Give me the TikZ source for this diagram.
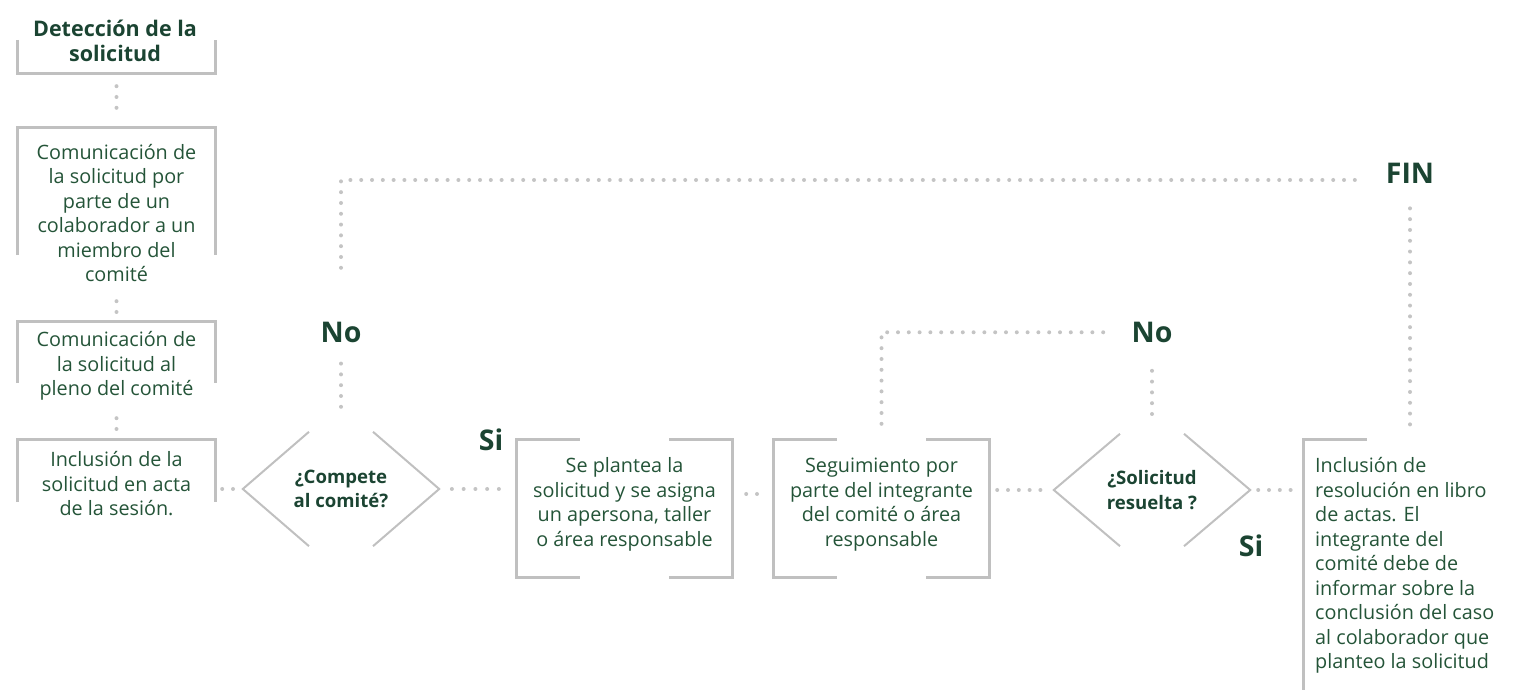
\documentclass[tikz,border=0pt]{standalone}
\usepackage{fontspec}
\setmainfont{Open Sans}
\usepackage{tikz}
\usetikzlibrary{positioning}
\definecolor{leaf}{RGB}{36,84,56}
\definecolor{darkleaf}{RGB}{27,68,50}
\definecolor{linegray}{RGB}{192,192,192}
\definecolor{dotgray}{RGB}{196,196,196}

\begin{document}
\begin{tikzpicture}[x=1pt, y=1pt,
  step text/.style={font=\fontsize{19.8}{24.5}\selectfont, text=leaf, align=center, inner sep=0pt},
  head text/.style={font=\bfseries\fontsize{21.5}{24.5}\selectfont, text=darkleaf, align=center, inner sep=0pt},
  ask node/.style={font=\bfseries\fontsize{18.6}{24.5}\selectfont, text=darkleaf, align=center,
    inner sep=0pt, minimum width=196pt, minimum height=114pt},
  answer/.style={font=\bfseries\fontsize{28.5}{30}\selectfont, text=darkleaf, inner sep=0pt},
  frame box/.style={inner sep=0pt, minimum width=198pt},
  step box/.style={inner sep=0pt, minimum width=215pt, minimum height=137pt},
  frame line/.style={draw=linegray, line width=3pt},
  ask line/.style={draw=linegray, line width=2pt},
  dot line/.style={draw=dotgray, line width=4pt, line cap=round, dash pattern=on 0pt off 10.8pt}]

\useasboundingbox (0,0) rectangle (1519,690);

% frames of the left column
\node[frame box, minimum height=33pt] (F1) at (116.5,633.5) {};
\node[frame box, minimum height=127pt] (F2) at (116.5,498.5) {};
\node[frame box, minimum height=61pt] (F3) at (116.5,337.5) {};
\node[frame box, minimum height=62pt] (F4) at (116.5,219) {};

% texts of the left column
\node[head text] (T1) at (115,649) {Detección de la\\solicitud};
\node[step text] (T2) at (116.5,477) {Comunicación de\\la solicitud por\\parte de un\\colaborador a un\\miembro del\\comité};
\node[step text] (T3) at (116.5,324) {Comunicación de\\la solicitud al\\pleno del comité};
\node[step text] (T4) at (116.5,206) {Inclusión de la\\solicitud en acta\\de la sesión.};

% decisions and steps
\node[ask node] (D1) at (341,201) {¿Compete\\al comité?};
\node[step box] (F5) at (624.5,181.5) {};
\node[step box] (F6) at (881.5,181.5) {};
\node[ask node, minimum height=112pt] (D2) at (1152,200) {¿Solicitud\\resuelta ?};
\node[inner sep=0pt, minimum width=212pt, minimum height=250pt] (F7) at (1410,125) {};

\node[step text] (T5) at (624.5,185.5) {Se plantea la\\solicitud y se asigna\\un apersona, taller\\o área responsable};
\node[step text] (T6) at (881.5,185.5) {Seguimiento por\\parte del integrante\\del comité o área\\responsable};
\node[step text, align=left, anchor=west] (T7) at (1315,124.5) {Inclusión de\\resolución en libro\\de actas. El\\integrante del\\comité debe de\\informar sobre la\\conclusión del caso\\al colaborador que\\planteo la solicitud};

% answers
\node[answer] (No1) [above=89pt of D1] {No};
\node[answer] (Si1) at (491,250) {Si};
\node[answer] (No2) [above=91pt of D2] {No};
\node[answer] (Si2) at (1251,144) {Si};
\node[answer] (FIN) at (1410,517) {FIN};
\coordinate (FINin) at ([yshift=-7pt]FIN.west);

% frame lines
\draw[frame line] (F1.north west) -- (F1.south west) -- (F1.south east) -- (F1.north east);
\foreach \f in {F2,F3,F4}
  \draw[frame line] (\f.south west) -- (\f.north west) -- (\f.north east) -- (\f.south east);
\foreach \f in {F5,F6}
  \draw[frame line] ([xshift=63pt]\f.north west) -- (\f.north west) -- (\f.south west) -- ([xshift=63pt]\f.south west)
    ([xshift=-63pt]\f.north east) -- (\f.north east) -- (\f.south east) -- ([xshift=-63pt]\f.south east);
\draw[frame line] ([xshift=63pt]F7.north west) -- (F7.north west) -- (F7.south west);
\foreach \d in {D1,D2}
  \draw[ask line] ([xshift=-32pt]\d.north) -- (\d.west) -- ([xshift=-32pt]\d.south)
    ([xshift=32pt]\d.north) -- (\d.east) -- ([xshift=32pt]\d.south);

% dotted connectors
\draw[dot line, shorten <=13pt, shorten >=17.4pt] (F1.south) -- (F2.north);
\draw[dot line, shorten <=46pt, shorten >=7.2pt] (F2.south) -- (F3.north);
\draw[dot line, shorten <=35pt, shorten >=8.2pt] (F3.south) -- (F4.north);
\draw[dot line, shorten <=6.5pt, shorten >=7.2pt] (F4.east |- D1.west) -- (D1.west);
\draw[dot line, dash pattern=on 0pt off 11.75pt, shorten <=12.7pt, shorten >=15.3pt] (D1.east) -- (D1.east -| F5.west);
\draw[dot line, shorten <=14pt, shorten >=14.2pt] ([yshift=14.5pt]F5.east) -- ([yshift=14.5pt]F6.west);
\draw[dot line, shorten <=8pt, shorten >=10.8pt] (F6.east |- D2.west) -- (D2.west);
\draw[dot line, shorten <=8pt, shorten >=10.6pt] (D2.east) -- (D2.east -| F7.west);
\draw[dot line, shorten <=16pt, shorten >=25pt] (F6.north) -- (F6.north |- No2.west) -- (No2.west);
\draw[dot line, shorten <=28pt, shorten >=16.8pt] (No2.south) -- (D2.north);
\draw[dot line, shorten <=25pt, shorten >=17.8pt] (D1.north) -- (No1.south);
\draw[dot line, shorten <=54pt, shorten >=26pt] (No1.north) -- (No1.north |- FINin) -- (FINin);
\draw[dot line, shorten <=25pt, shorten >=13pt] (FIN.south) -- (F7.north);

\end{tikzpicture}
\end{document}
